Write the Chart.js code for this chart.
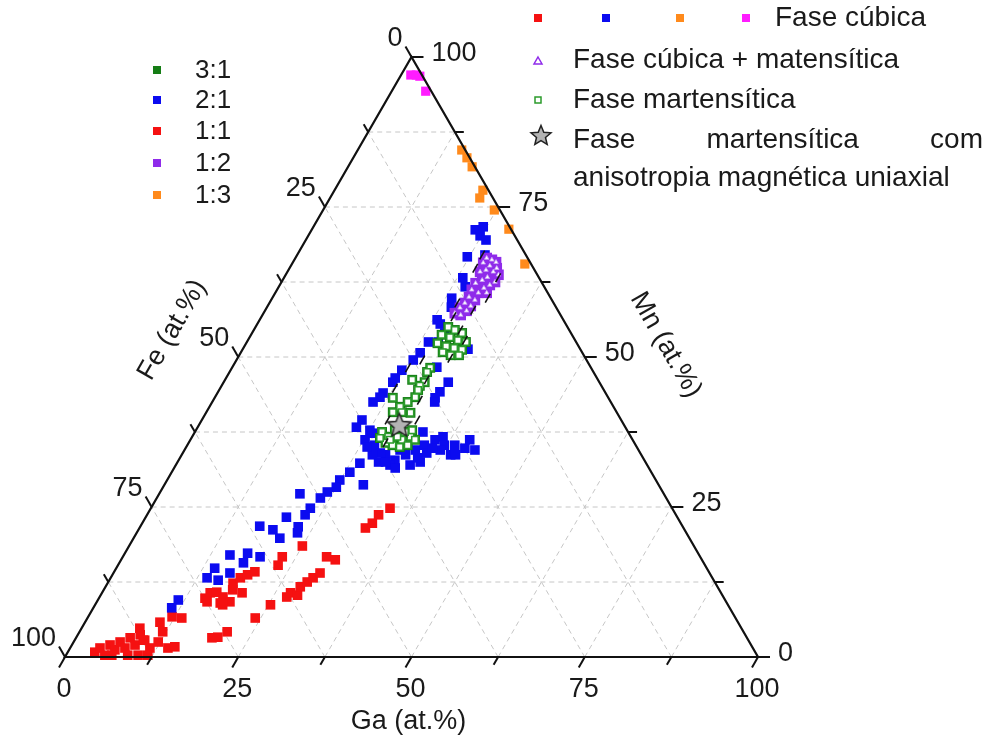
<!DOCTYPE html>
<html>
<head>
<meta charset="utf-8">
<title>Diagrama ternário Ga-Mn-Fe</title>
<script src="https://cdn.jsdelivr.net/npm/chart.js@4.4.0/dist/chart.umd.min.js"></script>
<style>
    html, body { margin: 0; padding: 0; background: #fff; }
    #wrap { width: 985px; height: 741px; }
</style>
</head>
<body>
<div id="wrap"><canvas id="ternarioChart" width="985" height="741"></canvas></div>
<script>
// composições em at.% como [Ga, Mn]  (Fe = 100 - Ga - Mn)
const red11 = [
    [3.9, 0.8], [4.3, 1.5], [5.6, 0.3], [5.5, 2.0], [6.6, 1.2], [6.7, 2.5], [7.9, 1.5], [7.8, 3.2],
    [9.1, 2.0], [9.0, 3.7], [10.1, 2.8], [11.5, 1.5], [10.4, 0.3], [11.8, 0.3], [8.9, 0.3], [6.6, 0.3],
    [8.4, 4.8], [9.9, 2.8], [10.8, 5.8], [12.1, 6.7], [13.6, 6.5], [12.0, 4.2], [12.2, 2.5], [14.1, 1.5],
    [15.0, 1.7], [15.3, 9.8], [15.6, 10.7], [16.5, 10.8], [17.8, 10.0], [19.2, 9.2], [15.9, 9.2], [17.9, 9.0],
    [18.4, 8.7], [18.6, 11.2], [18.1, 12.3], [18.7, 13.2], [19.5, 13.7], [20.3, 14.2], [20.2, 10.7],
    [19.6, 3.2], [20.4, 3.3], [21.3, 4.2], [24.2, 6.5], [25.3, 8.7], [27.0, 10.0], [27.2, 10.7], [28.4, 10.3],
    [28.1, 11.7], [28.7, 12.5], [29.2, 13.2], [29.8, 14.0], [29.4, 16.7], [30.9, 16.2], [23.0, 16.7],
    [23.1, 15.3], [25.0, 18.5], [32.6, 21.5], [33.2, 22.3], [33.4, 23.7], [34.5, 24.8]
];
const blue21 = [
    [23.6, 71.2], [24.5, 71.7], [24.8, 70.2], [26.0, 69.5], [24.7, 66.7], [27.1, 67.0], [25.8, 63.2],
    [26.9, 61.7], [25.9, 59.8], [26.6, 58.3], [25.6, 56.2], [26.4, 55.5], [27.8, 54.0], [26.2, 52.5],
    [27.6, 52.5], [32.5, 51.3], [25.9, 50.7], [25.5, 49.5], [24.7, 47.8], [29.5, 48.3], [24.4, 45.8],
    [32.4, 45.8], [24.4, 46.5], [32.0, 44.2], [31.8, 43.2], [23.9, 44.0], [23.8, 43.3], [23.2, 42.5],
    [32.1, 42.5], [23.1, 39.5], [25.1, 37.8], [25.2, 36.2], [27.0, 35.3], [29.4, 33.7], [31.2, 32.8],
    [32.3, 33.7], [33.3, 34.5], [32.9, 37.5], [34.2, 35.3], [35.3, 36.2], [36.2, 36.7], [37.1, 35.3],
    [38.6, 35.3], [40.3, 34.8], [41.9, 34.5], [33.8, 32.0], [30.9, 32.0], [31.1, 34.5], [28.5, 34.0],
    [35.2, 34.0], [38.8, 33.7], [36.9, 34.5], [40.3, 36.2], [35.0, 32.5], [29.0, 32.5],
    [31.9, 31.5], [34.3, 33.2], [39.5, 33.7], [35.6, 34.8], [27.5, 33.7], [30.0, 32.5],
    [22.9, 38.3], [25.7, 37.3], [26.1, 35.0], [26.4, 32.3], [25.7, 30.8], [24.9, 29.5], [25.0, 28.3],
    [28.7, 28.7], [24.1, 27.5], [23.6, 26.5], [20.3, 27.2], [23.0, 24.8], [22.8, 23.7], [20.3, 23.3],
    [22.8, 21.7], [17.2, 21.8], [19.4, 21.2], [21.1, 19.8], [23.2, 20.7], [15.3, 17.0], [17.7, 17.3],
    [19.8, 16.7], [17.9, 15.7], [14.2, 14.8], [13.9, 13.2], [15.7, 12.8], [16.8, 14.0], [11.6, 9.5], [11.3, 8.2]
];
const orange13 = [
    [15.0, 84.5], [16.4, 83.2], [17.9, 81.7], [21.4, 77.8], [21.6, 76.5], [24.7, 74.5], [28.4, 71.3], [33.6, 65.5]
];
const magentaCub = [[1.4, 97.0], [2.2, 97.0], [2.8, 96.8], [4.9, 94.3]];
const purple12 = [
    [27.6, 66.5], [28.5, 66.2], [29.3, 65.8], [27.5, 65.7], [28.7, 65.2], [29.9, 64.8], [28.5, 64.5],
    [29.7, 64.2], [27.8, 64.2], [30.7, 63.7], [29.3, 63.3], [28.8, 62.8], [30.8, 62.5], [28.1, 62.3],
    [30.3, 62.0], [29.7, 61.5], [28.1, 61.2], [29.3, 60.7], [30.5, 60.7], [28.3, 60.0], [29.4, 59.5],
    [28.2, 59.0], [29.3, 58.5], [27.9, 58.2], [29.1, 57.7], [27.6, 57.3], [28.6, 57.0]
];
const green31 = [
    [27.8, 55.0], [29.0, 54.5], [30.3, 54.0], [27.5, 53.7], [28.9, 53.3], [30.3, 52.8], [31.6, 52.5],
    [27.6, 52.3], [29.1, 51.8], [30.4, 51.5], [31.7, 51.2], [29.1, 50.8], [30.5, 50.3], [31.7, 50.3],
    [28.6, 48.2], [28.5, 47.5], [27.0, 46.2], [29.0, 45.8], [28.6, 45.2], [28.7, 44.5], [28.9, 43.3],
    [25.7, 43.2], [28.2, 42.5], [27.5, 41.7], [28.2, 40.8], [26.9, 40.8], [29.5, 40.7],
    [27.0, 37.5], [28.3, 36.7], [28.7, 37.8], [30.5, 36.2], [31.5, 36.7], [28.4, 35.7], [29.6, 35.3],
    [30.8, 35.0], [31.8, 35.3], [32.4, 36.2], [28.8, 36.2], [29.6, 36.7], [30.3, 37.5], [31.2, 37.8], [27.2, 36.5]
];
const uniaxialStar = [[28.9, 38.7]];
const tieMarks = [
    [26.7, 67.0], [26.8, 64.8], [30.9, 63.2], [31.1, 59.8], [30.0, 57.8], [27.1, 59.0], [27.7, 56.7],
    [29.8, 54.5], [31.3, 52.8], [30.7, 49.8], [26.8, 49.5], [25.4, 48.2], [29.1, 46.2], [29.8, 42.8],
    [25.2, 44.8], [26.8, 39.5], [31.1, 39.5], [28.4, 35.7]
];

const majorTicks = [0, 25, 50, 75, 100];
const allTicks = [0, 12.5, 25, 37.5, 50, 62.5, 75, 87.5, 100];
const gridSteps = [12.5, 25, 37.5, 50, 62.5, 75, 87.5];
const ratioLabels = ['3:1', '2:1', '1:1', '1:2', '1:3'];
const phaseLabels = ['Fase cúbica', 'Fase cúbica + matensítica', 'Fase martensítica',
    'Fase martensítica com', 'anisotropia magnética uniaxial'];
const axisTitles = { ga: 'Ga (at.%)', mn: 'Mn (at.%)', fe: 'Fe (at.%)' };

// cores
const C = {
    red: '#f51111', blue: '#0b0bf0', orange: '#ff8a1c', magenta: '#ff1cff',
    purple: '#8f2bea', green: '#157d15', greenOpen: '#2b9b2b', grid: '#c6c6c6', ink: '#1a1a1a'
};
const FONT = '"Liberation Sans", Arial, sans-serif';
const H = Math.sqrt(3) / 2;

const toXY = p => ({ x: p[0] + p[1] / 2, y: p[1] * H });

function pix(chart, ga, mn) {
    const { x, y } = chart.scales;
    return [x.getPixelForValue(ga + mn / 2), y.getPixelForValue(mn * H)];
}

function makeStar(size) {
    const c = document.createElement('canvas');
    c.width = c.height = size;
    const g = c.getContext('2d');
    const cx = size / 2, cy = size / 2 + 1, R = size / 2 - 1.5, r = R * 0.45;
    g.beginPath();
    for (let i = 0; i < 10; i++) {
        const rad = i % 2 ? r : R;
        const a = -Math.PI / 2 + i * Math.PI / 5;
        g.lineTo(cx + rad * Math.cos(a), cy + rad * Math.sin(a));
    }
    g.closePath();
    g.fillStyle = '#b3b3b3';
    g.fill();
    g.strokeStyle = '#222';
    g.lineWidth = 1.5;
    g.stroke();
    return c;
}
const starImg = makeStar(28);
const starLegend = makeStar(24);

function line(ctx, a, b) {
    ctx.beginPath();
    ctx.moveTo(a[0], a[1]);
    ctx.lineTo(b[0], b[1]);
    ctx.stroke();
}

function marker(ctx, kind, x, y, color) {
    ctx.save();
    if (kind === 'sq') {
        ctx.fillStyle = color;
        ctx.fillRect(x - 4, y - 4, 8, 8);
    } else if (kind === 'osq') {
        ctx.strokeStyle = color; ctx.lineWidth = 1.5;
        ctx.strokeRect(x - 3, y - 3, 6, 6);
    } else if (kind === 'tri') {
        ctx.strokeStyle = color; ctx.lineWidth = 1.5;
        ctx.beginPath();
        ctx.moveTo(x, y - 4); ctx.lineTo(x + 4, y + 3); ctx.lineTo(x - 4, y + 3); ctx.closePath();
        ctx.stroke();
    } else if (kind === 'star') {
        ctx.drawImage(starLegend, x - 12, y - 12);
    }
    ctx.restore();
}

const ternaryPlugin = {
    id: 'ternario',
    beforeDatasetsDraw(chart) {
        const ctx = chart.ctx;
        const P = (ga, mn) => pix(chart, ga, mn);
        ctx.save();
        ctx.strokeStyle = C.grid;
        ctx.lineWidth = 1;
        ctx.setLineDash([5, 4]);
        gridSteps.forEach(k => {
            line(ctx, P(0, k), P(100 - k, k));       // Mn = k
            line(ctx, P(k, 0), P(k, 100 - k));       // Ga = k
            line(ctx, P(100 - k, 0), P(0, 100 - k)); // Fe = k
        });
        ctx.restore();
    },
    afterDatasetsDraw(chart) {
        const ctx = chart.ctx;
        const P = (ga, mn) => pix(chart, ga, mn);
        ctx.save();
        ctx.strokeStyle = '#111';
        ctx.lineWidth = 2.2;
        ctx.lineCap = 'butt';
        const A = P(0, 0), B = P(100, 0), T = P(0, 100);
        ctx.beginPath();
        ctx.moveTo(A[0], A[1]); ctx.lineTo(B[0], B[1]); ctx.lineTo(T[0], T[1]); ctx.closePath();
        ctx.stroke();

        // marcas dos eixos
        ctx.lineWidth = 2;
        allTicks.forEach(v => {
            const len = majorTicks.includes(v) ? 12 : 9;
            let p = P(v, 0);
            line(ctx, p, [p[0] - 0.5 * len, p[1] + H * len]);
            p = P(100 - v, v);
            line(ctx, p, [p[0] + len, p[1]]);
            p = P(0, 100 - v);
            line(ctx, p, [p[0] - 0.5 * len, p[1] - H * len]);
        });

        // rótulos
        ctx.fillStyle = C.ink;
        ctx.font = '27px ' + FONT;
        ctx.textBaseline = 'middle';
        majorTicks.forEach(v => {
            let p = P(v, 0);
            ctx.textAlign = 'center';
            ctx.fillText(String(v), p[0] - 1, p[1] + 33);
            p = P(100 - v, v);
            ctx.textAlign = 'left';
            ctx.fillText(String(v), p[0] + 20, p[1] - 3);
            p = P(0, 100 - v);
            ctx.textAlign = 'right';
            ctx.fillText(String(v), p[0] - 9, p[1] - 18);
        });

        // títulos dos eixos
        ctx.textAlign = 'center';
        const mb = P(50, 0);
        ctx.fillText(axisTitles.ga, mb[0] - 3, mb[1] + 65);
        const mr = P(50, 50);
        ctx.save();
        ctx.translate(mr[0] + 81, mr[1] - 12);
        ctx.rotate(Math.PI / 3);
        ctx.fillText(axisTitles.mn, 0, 0);
        ctx.restore();
        const ml = P(0, 50);
        ctx.save();
        ctx.translate(ml[0] - 66, ml[1] - 27);
        ctx.rotate(-Math.PI / 3);
        ctx.fillText(axisTitles.fe, 0, 0);
        ctx.restore();

        // legenda das razões
        const ratioColors = [C.green, C.blue, C.red, C.purple, C.orange];
        const ratioY = [70, 100, 131, 163, 195];
        ctx.font = '26px ' + FONT;
        ctx.textAlign = 'left';
        ratioLabels.forEach((lab, i) => {
            marker(ctx, 'sq', 157, ratioY[i], ratioColors[i]);
            ctx.fillStyle = C.ink;
            ctx.fillText(lab, 195, ratioY[i] + 1);
        });

        // legenda das fases
        ctx.font = '28px ' + FONT;
        [C.red, C.blue, C.orange, C.magenta].forEach((c, i) => marker(ctx, 'sq', [538, 606, 680, 746][i], 18, c));
        ctx.fillStyle = C.ink;
        ctx.fillText(phaseLabels[0], 775, 18);
        marker(ctx, 'tri', 538, 61, C.purple);
        ctx.fillStyle = C.ink;
        ctx.fillText(phaseLabels[1], 573, 60);
        marker(ctx, 'osq', 538, 100, C.greenOpen);
        ctx.fillStyle = C.ink;
        ctx.fillText(phaseLabels[2], 573, 100);
        marker(ctx, 'star', 541, 135);
        // linha justificada
        const words = phaseLabels[3].split(' ');
        const left = 573, right = 983;
        const widths = words.map(w => ctx.measureText(w).width);
        const gap = (right - left - widths.reduce((s, w) => s + w, 0)) / (words.length - 1);
        let xw = left;
        ctx.fillStyle = C.ink;
        words.forEach((w, i) => { ctx.fillText(w, xw, 140); xw += widths[i] + gap; });
        ctx.fillText(phaseLabels[4], 573, 178);
        ctx.restore();
    }
};

const mk = (label, pts, style) => Object.assign({ label, data: pts.map(toXY), clip: false }, style);

// o primeiro dataset fica por cima
const datasets = [
    mk('estrela', uniaxialStar, { pointStyle: starImg }),
    mk('marcas', tieMarks, { pointStyle: 'line', pointRadius: 5, pointRotation: -60, borderColor: '#111', borderWidth: 1.6 }),
    mk('Fase cúbica + matensítica', purple12, { pointStyle: 'triangle', pointRadius: 2.6, backgroundColor: '#fff', borderColor: '#c9a0f5', borderWidth: 0.8 }),
    mk('Fase martensítica', green31, { pointStyle: 'rect', pointRadius: 4.6, backgroundColor: '#fff', borderColor: C.greenOpen, borderWidth: 1.6 }),
    mk('1:2', purple12, { pointStyle: 'rect', pointRadius: 7.5, backgroundColor: C.purple, borderWidth: 0 }),
    mk('3:1', green31, { pointStyle: 'rect', pointRadius: 7, backgroundColor: C.green, borderWidth: 0 }),
    mk('Fase cúbica', magentaCub, { pointStyle: 'rect', pointRadius: 6.5, backgroundColor: C.magenta, borderWidth: 0 }),
    mk('1:3', orange13, { pointStyle: 'rect', pointRadius: 6.5, backgroundColor: C.orange, borderWidth: 0 }),
    mk('2:1', blue21, { pointStyle: 'rect', pointRadius: 6.8, backgroundColor: C.blue, borderWidth: 0 }),
    mk('1:1', red11, { pointStyle: 'rect', pointRadius: 6.8, backgroundColor: C.red, borderWidth: 0 })
];

new Chart(document.getElementById('ternarioChart').getContext('2d'), {
    type: 'scatter',
    data: { datasets },
    options: {
        responsive: false,
        animation: false,
        devicePixelRatio: 1,
        events: [],
        layout: { padding: { left: 65, right: 227, top: 57, bottom: 84 } },
        scales: {
            x: { type: 'linear', min: 0, max: 100, display: false },
            y: { type: 'linear', min: 0, max: 100 * H, display: false }
        },
        plugins: { legend: { display: false }, tooltip: { enabled: false } }
    },
    plugins: [ternaryPlugin]
});
</script>
</body>
</html>
